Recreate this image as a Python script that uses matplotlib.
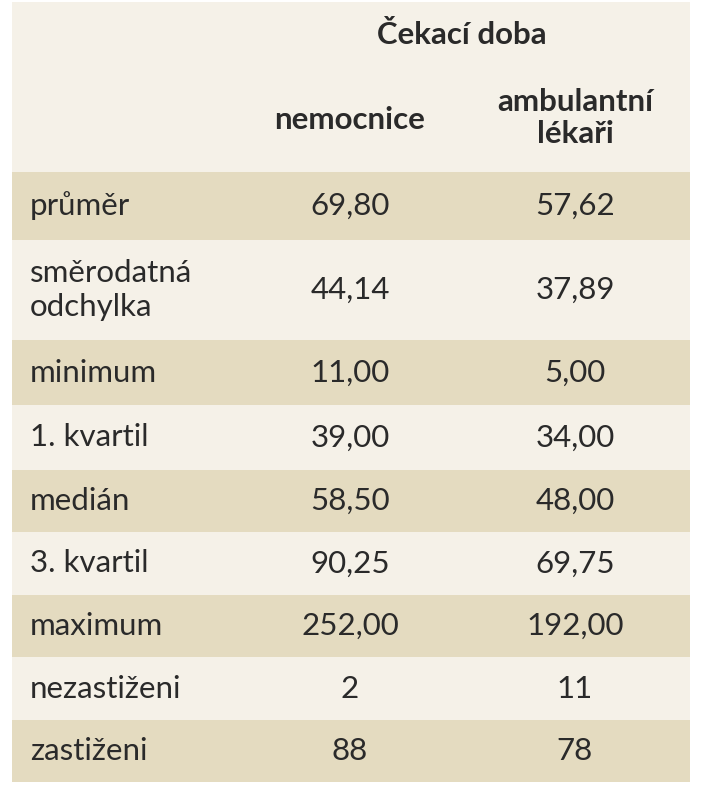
import matplotlib.pyplot as plt
from matplotlib.patches import Rectangle

plt.rcParams['font.family'] = ['Lato', 'DejaVu Sans']

row_labels = ['průměr', 'směrodatná\nodchylka', 'minimum', '1. kvartil', 'medián',
              '3. kvartil', 'maximum', 'nezastiženi', 'zastiženi']
nemocnice = ['69,80', '44,14', '11,00', '39,00', '58,50', '90,25', '252,00', '2', '88']
ambulantni = ['57,62', '37,89', '5,00', '34,00', '48,00', '69,75', '192,00', '11', '78']
group_title = 'Čekací doba'
col_titles = ['nemocnice', 'ambulantní\nlékaři']

# row boundaries in pixels (top of figure = 0)
row_edges = [172, 240, 340, 405, 470, 532, 595, 657, 720, 782]
beige = '#e4dbc0'
light = '#f5f1e8'
txt = '#2a2a2a'
fs = 22.5

fig = plt.figure(figsize=(7.19, 8), dpi=100)
ax = fig.add_axes([0, 0, 1, 1])
ax.set_xlim(0, 719)
ax.set_ylim(800, 0)
ax.axis('off')

x0, x1 = 12, 690
ax.add_patch(Rectangle((x0, 2), x1 - x0, row_edges[0] - 2, color=light, lw=0))
for i in range(len(row_labels)):
    top, bot = row_edges[i], row_edges[i + 1]
    ax.add_patch(Rectangle((x0, top), x1 - x0, bot - top,
                           color=beige if i % 2 == 0 else light, lw=0))
    yc = (top + bot) / 2
    ax.text(30, yc, row_labels[i], ha='left', va='center', fontsize=fs,
            color=txt, linespacing=1.25)
    ax.text(350, yc, nemocnice[i], ha='center', va='center', fontsize=fs, color=txt)
    ax.text(575, yc, ambulantni[i], ha='center', va='center', fontsize=fs, color=txt)

ax.text(462, 35, group_title, ha='center', va='center', fontsize=fs,
        fontweight='bold', color=txt)
ax.text(350, 120, col_titles[0], ha='center', va='center', fontsize=fs,
        fontweight='bold', color=txt)
ax.text(575, 118, col_titles[1], ha='center', va='center', fontsize=fs,
        fontweight='bold', color=txt, linespacing=1.15)

fig.savefig('out.png', dpi=100, facecolor='white')
